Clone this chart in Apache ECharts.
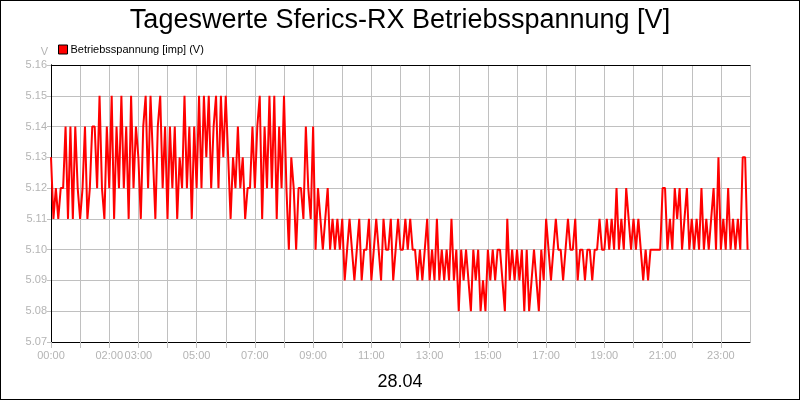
<!DOCTYPE html>
<html>
<head>
  <meta charset="utf-8">
  <script src="https://cdn.jsdelivr.net/npm/echarts@6.0.0/dist/echarts.min.js"></script>
  <style>
    body { margin: 0; padding: 0; background: #fff; }
    #chart { width: 800px; height: 400px; box-sizing: border-box; border: 1px solid #000; }
  </style>
</head>
<body>
  <div id="chart"></div>
  <script>
    // Messwerte alle 5 Minuten, 28.04
    const stepMinutes = 5;
    const voltage = [
      5.13,5.11,5.12,5.11,5.12,5.12,5.14,5.11,5.14,5.11,5.14,5.12,
      5.11,5.12,5.14,5.11,5.12,5.14,5.14,5.12,5.15,5.12,5.11,5.14,
      5.12,5.15,5.11,5.14,5.12,5.15,5.12,5.14,5.11,5.15,5.12,5.14,
      5.13,5.11,5.14,5.15,5.12,5.15,5.13,5.11,5.14,5.15,5.12,5.14,
      5.11,5.14,5.12,5.14,5.11,5.13,5.12,5.15,5.12,5.14,5.11,5.14,
      5.12,5.15,5.12,5.15,5.13,5.15,5.12,5.14,5.15,5.12,5.15,5.13,
      5.15,5.13,5.11,5.13,5.12,5.14,5.12,5.13,5.11,5.12,5.12,5.14,
      5.12,5.14,5.15,5.11,5.14,5.12,5.15,5.12,5.15,5.11,5.14,5.12,
      5.15,5.12,5.10,5.13,5.12,5.10,5.12,5.12,5.11,5.14,5.12,5.11,
      5.14,5.10,5.12,5.11,5.10,5.11,5.12,5.10,5.11,5.10,5.11,5.10,
      5.11,5.09,5.10,5.11,5.10,5.09,5.10,5.11,5.09,5.10,5.10,5.11,
      5.09,5.10,5.11,5.10,5.09,5.11,5.10,5.10,5.11,5.09,5.10,5.11,
      5.10,5.10,5.11,5.10,5.11,5.10,5.10,5.09,5.10,5.09,5.10,5.11,
      5.09,5.10,5.09,5.11,5.09,5.10,5.09,5.10,5.09,5.11,5.09,5.10,
      5.08,5.10,5.09,5.10,5.09,5.08,5.10,5.09,5.10,5.08,5.09,5.08,
      5.10,5.09,5.10,5.09,5.10,5.10,5.09,5.08,5.11,5.09,5.10,5.09,
      5.10,5.09,5.10,5.08,5.10,5.08,5.09,5.10,5.09,5.08,5.10,5.09,
      5.11,5.10,5.09,5.10,5.11,5.10,5.10,5.09,5.10,5.11,5.10,5.10,
      5.11,5.09,5.10,5.10,5.09,5.10,5.10,5.09,5.10,5.10,5.11,5.10,
      5.10,5.11,5.10,5.11,5.10,5.12,5.10,5.11,5.10,5.12,5.11,5.10,
      5.11,5.10,5.11,5.10,5.09,5.10,5.09,5.10,5.10,5.10,5.10,5.10,
      5.12,5.12,5.10,5.11,5.10,5.12,5.11,5.12,5.10,5.11,5.12,5.10,
      5.11,5.10,5.11,5.10,5.12,5.10,5.11,5.10,5.11,5.12,5.10,5.13,
      5.10,5.11,5.10,5.12,5.10,5.11,5.10,5.11,5.10,5.13,5.13,5.10
    ];
    const xTickLabels = ['00:00', '02:00', '03:00', '05:00', '07:00', '09:00', '11:00',
                         '13:00', '15:00', '17:00', '19:00', '21:00', '23:00'];
    const yMin = 5.07, yMax = 5.16, yStep = 0.01;

    const gridColor = '#c0c0c0';
    const labelColor = '#b4b4b4';
    const font = 'Liberation Sans, Arial, sans-serif';

    const seriesData = voltage.map((v, i) => [i * stepMinutes, v]);

    const fmtTime = (m) => {
      const h = Math.floor(m / 60);
      return (h < 10 ? '0' : '') + h + ':00';
    };

    // nur Rahmenlinie (oben / rechts)
    const frameAxis = {
      axisLine: { show: true, lineStyle: { color: '#000', width: 1 } },
      axisTick: { show: false },
      axisLabel: { show: false },
      splitLine: { show: false }
    };

    const chart = echarts.init(document.getElementById('chart'));
    chart.setOption({
      animation: false,
      title: [
        {
          text: 'Tageswerte Sferics-RX Betriebsspannung [V]',
          left: 'center', top: 1,
          textStyle: { fontFamily: font, fontSize: 27, fontWeight: 'normal', color: '#000' }
        },
        {
          text: '28.04',
          left: 'center', top: 367,
          textStyle: { fontFamily: font, fontSize: 18, fontWeight: 'normal', color: '#000' }
        }
      ],
      legend: {
        left: 52, top: 38,
        itemWidth: 9, itemHeight: 9, itemGap: 4,
        icon: 'rect',
        textStyle: { fontFamily: font, fontSize: 11, color: '#000', padding: [0, 0, 0, -2] },
        data: [{ name: 'Betriebsspannung [imp] (V)', itemStyle: { borderColor: '#000', borderWidth: 1 } }]
      },
      grid: {
        left: 50, right: 49, top: 64, bottom: 57
      },
      xAxis: [
        {
          type: 'value',
          min: 0, max: 1440, interval: 60,
          axisLine: { show: true, lineStyle: { color: '#000', width: 1 } },
          axisTick: { show: true, length: 6, lineStyle: { color: gridColor } },
          splitLine: { show: true, lineStyle: { color: gridColor } },
          axisLabel: {
            fontFamily: font, fontSize: 11, color: labelColor, margin: 8,
            showMaxLabel: false,
            formatter: (v) => xTickLabels.includes(fmtTime(v)) ? fmtTime(v) : ''
          }
        },
        Object.assign({ type: 'value', position: 'top', min: 0, max: 1440 }, frameAxis)
      ],
      yAxis: [
        {
          type: 'value',
          min: yMin, max: yMax, interval: yStep,
          name: 'V',
          nameGap: 8,
          nameTextStyle: { fontFamily: font, fontSize: 11, color: labelColor, align: 'right', padding: [0, 3, 0, 0] },
          axisLine: { show: true, lineStyle: { color: '#000', width: 1 } },
          axisTick: { show: true, length: 4, lineStyle: { color: gridColor } },
          splitLine: { show: true, lineStyle: { color: gridColor } },
          axisLabel: {
            fontFamily: font, fontSize: 11, color: labelColor, margin: 4,
            formatter: (v) => v.toFixed(2)
          }
        },
        Object.assign({ type: 'value', position: 'right', min: yMin, max: yMax }, frameAxis)
      ],
      series: [{
        name: 'Betriebsspannung [imp] (V)',
        type: 'line',
        data: seriesData,
        showSymbol: false,
        color: '#ff0000',
        lineStyle: { color: '#ff0000', width: 2 }
      }]
    });
  </script>
</body>
</html>
